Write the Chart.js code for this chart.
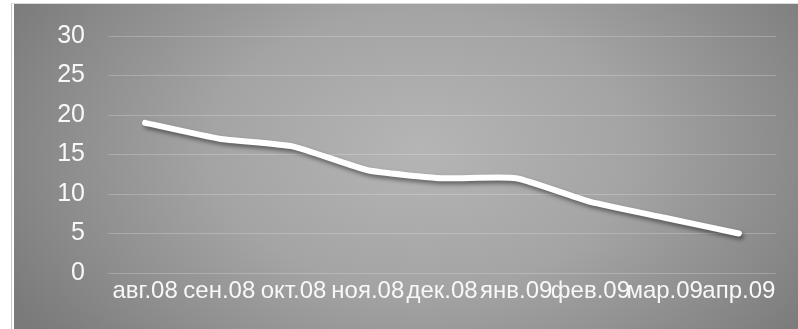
<!DOCTYPE html>
<html>
<head>
<meta charset="utf-8">
<script src="https://cdn.jsdelivr.net/npm/chart.js@4"></script>
<style>
  html, body { margin: 0; padding: 0; background: #fff; }
  #frame {
    position: absolute; left: 11px; top: 3px; right: 0; bottom: 0;
    border-left: 1px solid #c8c8c8; border-top: 1px solid #dcdcdc;
  }
  #panel {
    position: absolute; left: 14px; top: 4px; right: 0; bottom: 0;
    background: radial-gradient(ellipse 60% 95% at 52% 45%, #b5b5b5 0%, #a4a4a4 45%, #8a8a8a 80%, #7a7a7a 100%);
  }
  #chart { display: block; position: absolute; left: 0; top: 0; }
</style>
</head>
<body>
<div id="frame"></div>
<div id="panel"></div>
<canvas id="chart" width="798" height="329"></canvas>
<script>
// Данные графика
const months = ['авг.08', 'сен.08', 'окт.08', 'ноя.08', 'дек.08', 'янв.09', 'фев.09', 'мар.09', 'апр.09'];
const values = [19, 17, 16, 13, 12, 12, 9, 7, 5];
const yTicks = [0, 5, 10, 15, 20, 25, 30];

document.addEventListener('DOMContentLoaded', () => {
    if (typeof Chart === 'undefined') {
        console.error('Chart.js не загружен.');
        return;
    }

    Chart.defaults.font.family = '"Liberation Sans", Arial, sans-serif';
    Chart.defaults.color = '#f8f8f8';

    // тень под линией
    const lineShadow = {
        id: 'lineShadow',
        beforeDatasetDraw(chart) {
            const ctx = chart.ctx;
            ctx.save();
            ctx.shadowColor = 'rgba(0,0,0,0.45)';
            ctx.shadowBlur = 4;
            ctx.shadowOffsetX = 2;
            ctx.shadowOffsetY = 3;
        },
        afterDatasetDraw(chart) {
            chart.ctx.restore();
        }
    };

    new Chart(document.getElementById('chart').getContext('2d'), {
        type: 'line',
        data: {
            labels: months,
            datasets: [{
                data: values,
                borderColor: '#ffffff',
                borderWidth: 6,
                borderCapStyle: 'round',
                borderJoinStyle: 'round',
                pointRadius: 0,
                tension: 0.15,
                fill: false
            }]
        },
        options: {
            responsive: false,
            animation: false,
            layout: { padding: { left: 0, right: 22, top: 0, bottom: 0 } },
            plugins: { legend: { display: false }, tooltip: { enabled: false } },
            scales: {
                x: {
                    offset: true,
                    grid: { display: false },
                    border: { display: false },
                    ticks: { font: { size: 24, lineHeight: 1 }, maxRotation: 0, autoSkip: false, padding: -2 },
                    afterFit(scale) { scale.height = 56; }
                },
                y: {
                    min: 0,
                    max: 30,
                    afterBuildTicks(scale) { scale.ticks = yTicks.map(v => ({ value: v })); },
                    grid: { color: 'rgba(255,255,255,0.22)', lineWidth: 1, drawTicks: false },
                    border: { display: false },
                    ticks: { font: { size: 25, lineHeight: 1.04 }, padding: 23 },
                    afterFit(scale) { scale.width = 108; }
                }
            }
        },
        plugins: [lineShadow]
    });
});
</script>
</body>
</html>
